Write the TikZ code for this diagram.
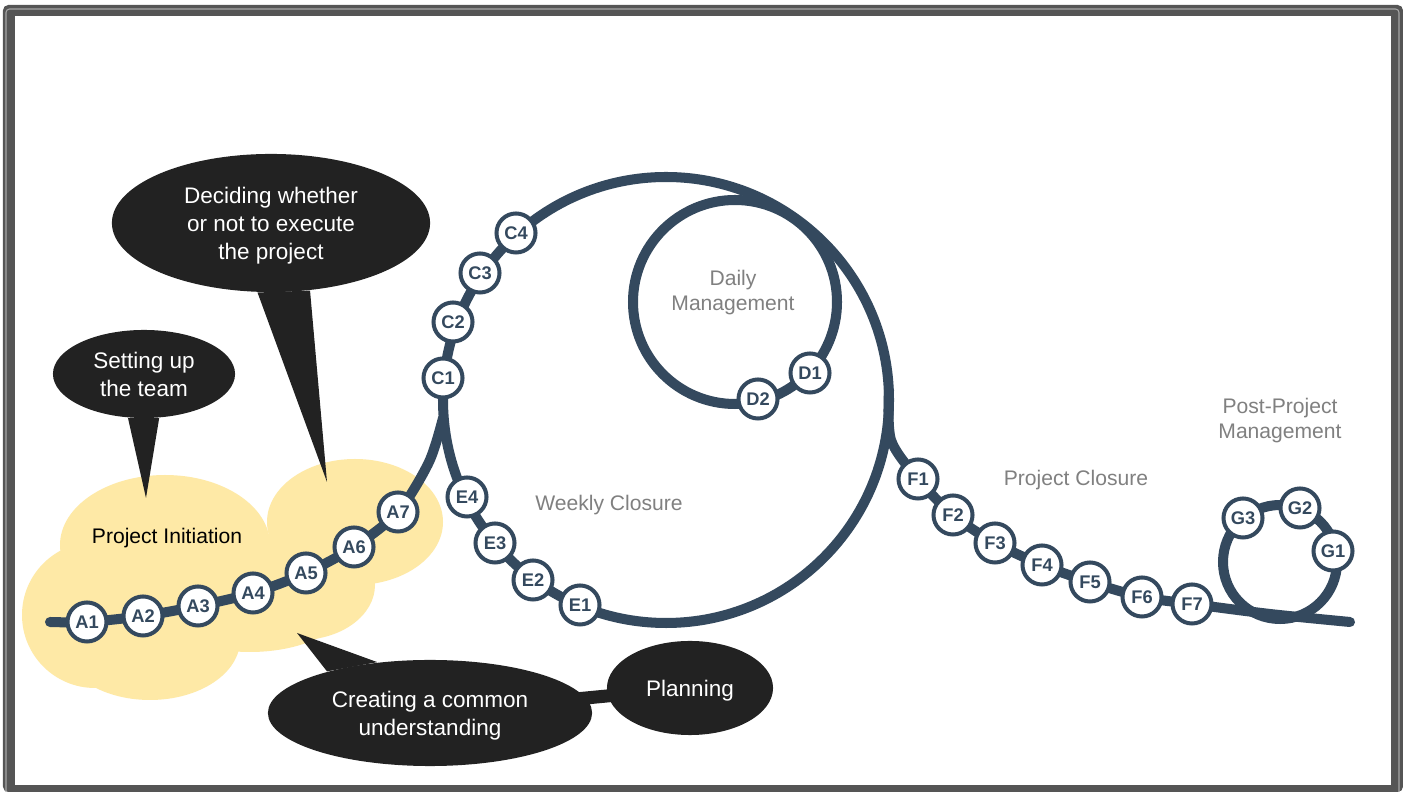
\documentclass[tikz,border=0pt]{standalone}
\usepackage{fontspec}
\setmainfont{Liberation Sans}
\usetikzlibrary{shapes.geometric}

\definecolor{trackblue}{HTML}{34495E}
\definecolor{bubble}{HTML}{222222}
\definecolor{cloudy}{HTML}{FEE9A6}
\definecolor{framegray}{HTML}{555555}
\definecolor{phasegray}{HTML}{808080}

\tikzset{
	track/.style={draw=trackblue, line width=2.85pt, line cap=round},
	stop/.style={circle, draw=trackblue, fill=white, line width=1.14pt, minimum size=0.39cm, inner sep=0pt, text=trackblue, font=\fontsize{5.2}{6}\selectfont\bfseries},
	balloon/.style={ellipse, fill=bubble, inner sep=0pt, text depth=-0.3pt, text=white, align=center, font=\fontsize{6.4}{8}\selectfont},
	phase/.style={text=phasegray, text depth=-0.2pt, align=center, font=\fontsize{6}{7.1}\selectfont}
}

\begin{document}
\begin{tikzpicture}[x=0.01cm, y=-0.01cm]
		\useasboundingbox (0,0) rectangle (1403,792);
		\fill[framegray, rounded corners=1.5pt] (3,5) rectangle (1403,792);
		\draw[gray!70, line width=0.3pt, rounded corners=1pt] (6,9) rectangle (1399,800);
		\fill[white] (15,16) rectangle (1391,785);

		\fill[cloudy] (165,545) ellipse [x radius=105, y radius=70];
		\fill[cloudy] (355,522) ellipse [x radius=88, y radius=63];
		\fill[cloudy] (95,615) circle (73);
		\fill[cloudy] (150,640) ellipse [x radius=90, y radius=60];
		\fill[cloudy] (250,600) ellipse [x radius=100, y radius=52];
		\fill[cloudy] (300,585) ellipse [x radius=75, y radius=55];
		\node[font=\fontsize{6}{7}\selectfont, text depth=-0.2pt] (init) at (167,536) {Project Initiation};

		\foreach \n/\x/\y in {A1/87/622, A2/143/616, A3/198/606, A4/253/593, A5/306/573, A6/354/547, A7/398/512,
				C1/443/378, C2/453/322, C3/480/273, C4/516/233, D1/810/373, D2/758/399,
				E1/580/605, E2/533/580, E3/495/543, E4/467/497,
				F1/918/479, F2/953/515, F3/995/543, F4/1042/565, F5/1090/582, F6/1142/597, F7/1192/604,
				G1/1333/551, G2/1300/508, G3/1243/518}
			\coordinate (p\n) at (\x,\y);
		\coordinate (weekly) at (666,400);
		\coordinate (daily) at (735,302);
		\coordinate (post) at (1280,562);

		\draw[track] (weekly) circle (223);
		\draw[track] (daily) circle (102);
		\draw[track] (post) circle (57);
		\draw[track] plot[smooth] coordinates {(50,622) (pA1) (pA2) (pA3) (pA4) (pA5) (pA6) (pA7) (429,462) (443,418)};
		\draw[track] plot[smooth] coordinates {(889,390) (891,440) (pF1) (pF2) (pF3) (pF4) (pF5) (pF6) (pF7) (1270,614) (1350,622)};

		\foreach \n in {A1,A2,A3,A4,A5,A6,A7,C1,C2,C3,C4,D1,D2,E1,E2,E3,E4,F1,F2,F3,F4,F5,F6,F7,G1,G2,G3}
			\node[stop] (\n) at (p\n) {\n};

		\node[phase] (dailylbl) at (733,290) {Daily\\Management};
		\node[phase] (weeklylbl) at (609,503) {Weekly Closure};
		\node[phase] (closurelbl) at (1076,478) {Project Closure};
		\node[phase] (postlbl) at (1280,418) {Post-Project\\Management};

		\node[balloon, minimum width=3.18cm, minimum height=1.38cm] (decide) at (271,223) {Deciding whether\\or not to execute\\the project};
		\coordinate (decide tip) at (327,482);
		\fill[bubble] (decide.259) -- (decide tip) -- (decide.300) -- cycle;

		\node[balloon, minimum width=1.82cm, minimum height=0.88cm] (team) at (144,374) {Setting up\\the team};
		\coordinate (team tip) at (146,498);
		\fill[bubble] (team.250) -- (team tip) -- (team.289) -- cycle;

		\node[balloon, minimum width=3.24cm, minimum height=1.06cm] (common) at (430,713) {Creating a common\\understanding};
		\coordinate (common tip) at (297,633);
		\fill[bubble] (common.158) -- (common tip) -- (common.136) -- cycle;

		\node[balloon, minimum width=1.66cm, minimum height=0.94cm] (plan) at (690,688) {Planning};
		\draw[bubble, line width=3.7pt, shorten <=-3pt, shorten >=-3pt] (common) -- (plan);
	\end{tikzpicture}
\end{document}
